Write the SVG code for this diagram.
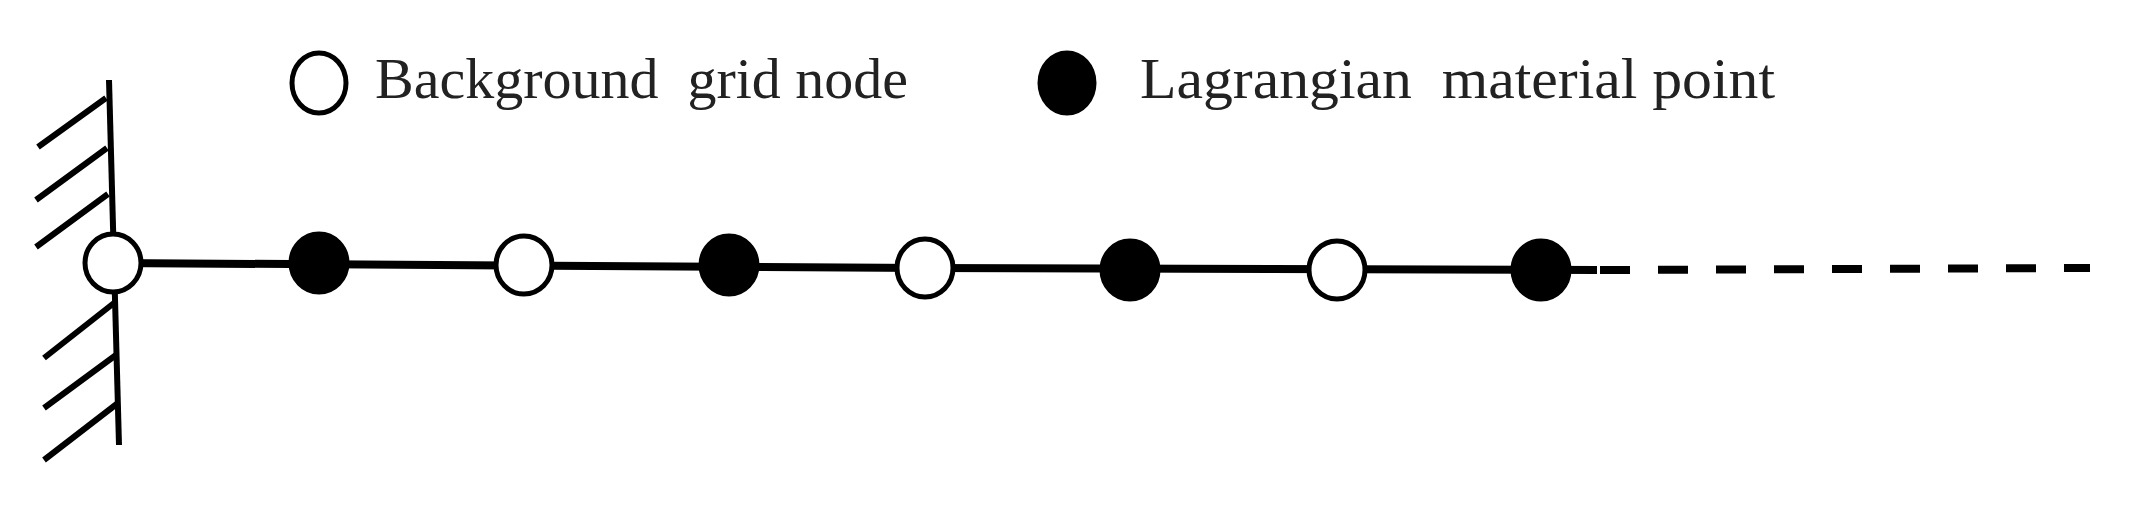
<svg xmlns="http://www.w3.org/2000/svg" width="2135" height="510" viewBox="0 0 2135 510">
<style>
.w{stroke:#000;stroke-width:6;fill:none}
.open{fill:#fff;stroke:#000;stroke-width:5}
.fill{fill:#000;stroke:#000;stroke-width:5}
.t{font-family:"Liberation Serif",serif;font-size:56px;fill:#222}
</style>
<rect width="2135" height="510" fill="#fff"/>
<g id="wall">
<path class="w" d="M109 80 L119 445"/>
<path class="w" d="M106 98 L38 147 M107 148 L36 200 M108 194 L36 247 M114 303 L44 358 M116 355 L44 408 M118 403 L44 460"/>
</g>
<g id="connectors">
<path d="M113 263 L925 268 L1597 270" stroke="#000" stroke-width="8" fill="none"/>
<path d="M1600 270 L2090 268" stroke="#000" stroke-width="8" fill="none" stroke-dasharray="30 28"/>
</g>
<g id="n1"><ellipse class="open" cx="113" cy="263" rx="28" ry="29"/></g>
<g id="n2"><ellipse class="fill" cx="319" cy="263" rx="28" ry="29"/></g>
<g id="n3"><ellipse class="open" cx="524" cy="265" rx="28" ry="29"/></g>
<g id="n4"><ellipse class="fill" cx="729" cy="265" rx="28" ry="29"/></g>
<g id="n5"><ellipse class="open" cx="925" cy="268" rx="28" ry="29"/></g>
<g id="n6"><ellipse class="fill" cx="1130" cy="270" rx="28" ry="29"/></g>
<g id="n7"><ellipse class="open" cx="1337" cy="270" rx="28" ry="29"/></g>
<g id="n8"><ellipse class="fill" cx="1541" cy="270" rx="28" ry="29"/></g>
<g id="legend">
<ellipse class="open" cx="319" cy="83" rx="27" ry="30"/>
<text class="t" x="375" y="98" textLength="533" lengthAdjust="spacingAndGlyphs" xml:space="preserve">Background  grid node</text>
<ellipse class="fill" cx="1067" cy="83" rx="27" ry="30"/>
<text class="t" x="1140" y="98" textLength="635" lengthAdjust="spacingAndGlyphs" xml:space="preserve">Lagrangian  material point</text>
</g>
</svg>
